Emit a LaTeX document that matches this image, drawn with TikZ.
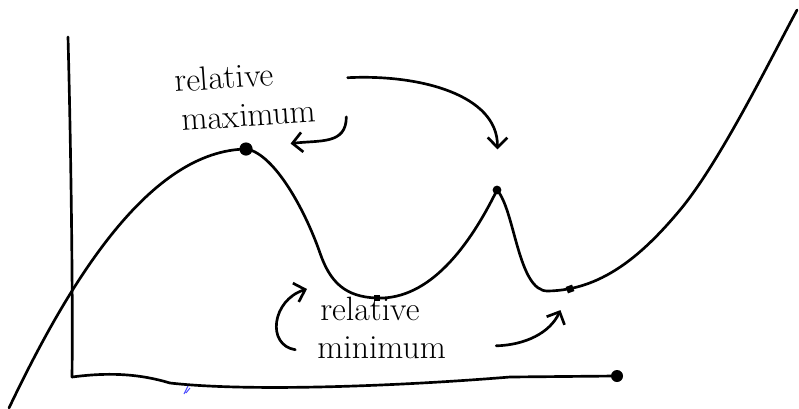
\documentclass[tikz,border=0pt]{standalone}
\usetikzlibrary{arrows.meta}
\begin{document}
\begin{tikzpicture}[
    x=0.025cm, y=-0.025cm,
    font=\fontsize{24}{28}\selectfont,
    stift/.style={line width=1.9pt, line cap=round, line join=round},
    punkt/.style={circle, fill, inner sep=0pt, minimum size=0.22cm},
    eck/.style={rectangle, fill, inner sep=0pt, minimum size=0.17cm},
    wort/.style={inner sep=0pt, anchor=base west},
    pfeil/.style={stift, -{Straight Barb[length=7pt, width=14pt]}}
  ]
  \useasboundingbox (0,0) rectangle (799,408);
  % axes
  \draw[stift] (68,37) .. controls (71,150) and (73,300) .. (72,377);
  \draw[stift] (72,377) .. controls (110,372) and (140,374) .. (170,383)
    .. controls (250,392) and (400,386) .. (510,377) -- (615,376);
  \node[punkt, minimum height=0.3cm] (xend) at (617,376) {};
  \draw[blue!70, line width=0.7pt] (184,394) -- (188,386) (186,393) -- (190,388);

  % the curve
  \draw[stift] (9,408) .. controls (70,280) and (150,150) .. (247,149)
    .. controls (275,155) and (305,210) .. (320,253)
    .. controls (330,282) and (345,297) .. (377,298)
    .. controls (430,300) and (470,245) .. (497,190)
    .. controls (515,210) and (518,292) .. (548,291)
    .. controls (600,290) and (640,258) .. (680,210)
    .. controls (720,162) and (770,60) .. (797,10);
  \node[punkt, minimum height=0.33cm] (maxA) at (246,149) {};
  \node[punkt] (maxB) at (497,190) {};
  \node[eck] (minA) at (377,298) {};
  \node[eck, rotate=20] (minB) at (570,289) {};

  % labels
  \node[wort, rotate=4] (relA) at (175,92) {relative};
  \node[wort, rotate=4] (maxlab) at (182,131) {maximum};
  \node[wort] (relB) at (320,320) {relative};
  \node[wort] (minlab) at (317,358) {minimum};

  % arrows
  \coordinate (minAtip) at (307,289);
  \draw[pfeil, shorten >=0.95cm] ([xshift=0.75cm, yshift=-0.15cm]maxlab.east) .. controls +(0,28) and (320,140) .. (maxA);
  \draw[pfeil, shorten <=1.85cm, shorten >=0.9cm] ([yshift=-0.2cm]relA.east) .. controls (420,74) and (498,95) .. (maxB);
  \draw[pfeil, shorten <=0.55cm] ([yshift=-0.15cm]minlab.west) .. controls (266,345) and (272,300) .. (minAtip);
  \draw[pfeil, shorten <=1.25cm, shorten >=0.45cm] (minlab.east) .. controls (525,345) and (550,333) .. (minB);
\end{tikzpicture}
\end{document}
